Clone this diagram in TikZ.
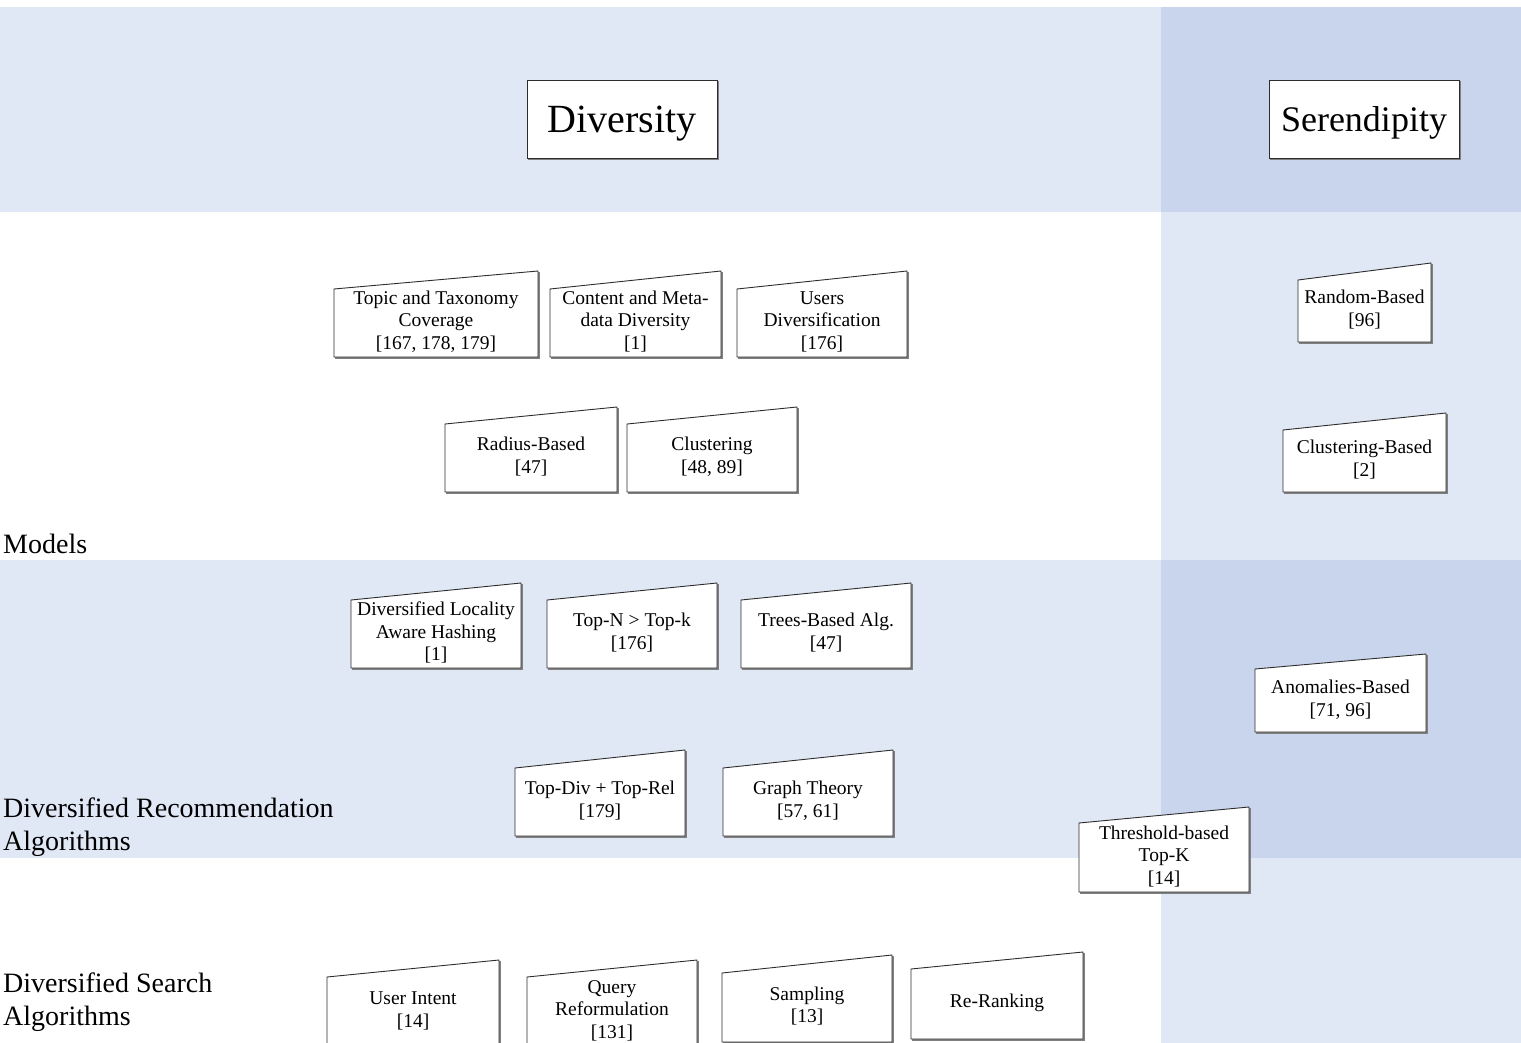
\documentclass[tikz,border=0pt]{standalone}
\usepackage{fontspec}
\setmainfont{Liberation Serif}
\definecolor{bandlight}{RGB}{224,231,245}
\definecolor{banddark}{RGB}{200,213,236}
\definecolor{edge}{RGB}{45,45,45}

% slanted-top box: name, left x, right x, top-left y, top-right y, bottom y, text
\newcommand\slantbox[7]{%
  \draw[boxshadow] (#3+1,#5+1) -- (#3+1,#6+1) -- (#2+1,#6+1);
  \draw[boxline] (#2,#6) -- (#2,#4) -- (#3,#5) -- (#3,#6) -- cycle;
  \node[boxtext] (#1) at ({(#2+#3)/2},{((#4+#5)/2+#6)/2+3}) {#7};
}

\begin{document}
\begin{tikzpicture}[x=1pt,y=-1pt,
  boxline/.style={draw=edge, line width=0.9pt, fill=white, line join=miter},
  boxshadow/.style={draw=black!50, line width=1.2pt},
  boxtext/.style={align=center, inner sep=0pt, font=\fontsize{19.5}{22.5}\selectfont},
  rowlabel/.style={inner sep=0pt, align=left, font=\fontsize{28}{33}\selectfont},
  headbox/.style={draw=edge, line width=0.9pt, fill=white, minimum width=190pt,
    minimum height=78pt, inner sep=0pt, text depth=0pt}]

\useasboundingbox (0,0) rectangle (1521,1043);

% swim-lane bands
\fill[bandlight] (0,7) rectangle (1161,212);
\fill[banddark]  (1161,7) rectangle (1521,212);
\fill[bandlight] (1161,212) rectangle (1521,560);
\fill[bandlight] (0,560) rectangle (1161,858);
\fill[banddark]  (1161,560) rectangle (1521,858);
\fill[bandlight] (1161,858) rectangle (1521,1043);

% column headers
\draw[boxshadow] (718,81) -- (718,159) -- (528,159);
\node[headbox, font=\fontsize{40}{44}\selectfont] (diversity) at (622,119) {Diversity};
\draw[boxshadow] (1460,81) -- (1460,159) -- (1270,159);
\node[headbox, font=\fontsize{36}{40}\selectfont] (serendipity) at (1364,119) {Serendipity};

% row labels
\node[rowlabel, anchor=base west] (models) at (3,553) {Models};
\node[rowlabel, anchor=west] (recalg) at (3,827) {Diversified Recommendation\\Algorithms};
\node[rowlabel, anchor=west] (searchalg) at (3,1002) {Diversified Search\\Algorithms};

% diversity models
\slantbox{topic}{334}{538}{289}{271}{357}{Topic and Taxonomy\\Coverage\\{}[167, 178, 179]}
\slantbox{content}{550}{721}{289}{271}{357}{Content and Meta-\\data Diversity\\{}[1]}
\slantbox{users}{737}{907}{289}{271}{357}{Users\\Diversification\\{}[176]}
\slantbox{radius}{445}{617}{424}{407}{492}{Radius-Based\\{}[47]}
\slantbox{clustering}{627}{797}{424}{407}{492}{Clustering\\{}[48, 89]}

% serendipity models
\slantbox{random}{1298}{1431}{280}{263}{342}{Random-Based\\{}[96]}
\slantbox{clusterbased}{1283}{1446}{430}{413}{492}{Clustering-Based\\{}[2]}

% diversified recommendation algorithms
\slantbox{dlah}{351}{521}{600}{583}{668}{Diversified Locality\\Aware Hashing\\{}[1]}
\slantbox{topn}{547}{717}{600}{583}{668}{Top-N > Top-k\\{}[176]}
\slantbox{trees}{741}{911}{600}{583}{668}{Trees-Based Alg.\\{}[47]}
\slantbox{topdiv}{515}{685}{768}{750}{836}{Top-Div + Top-Rel\\{}[179]}
\slantbox{graph}{723}{893}{768}{750}{836}{Graph Theory\\{}[57, 61]}
\slantbox{anomalies}{1255}{1426}{669}{654}{732}{Anomalies-Based\\{}[71, 96]}
\slantbox{threshold}{1079}{1249}{823}{807}{892}{Threshold-based\\Top-K\\{}[14]}

% diversified search algorithms
\slantbox{intent}{327}{499}{977}{960}{1047}{User Intent\\{}[14]}
\slantbox{query}{527}{697}{977}{960}{1047}{Query\\Reformulation\\{}[131]}
\slantbox{sampling}{722}{892}{973}{955}{1042}{Sampling\\{}[13]}
\slantbox{rerank}{911}{1083}{969}{952}{1039}{Re-Ranking}

\end{tikzpicture}
\end{document}
